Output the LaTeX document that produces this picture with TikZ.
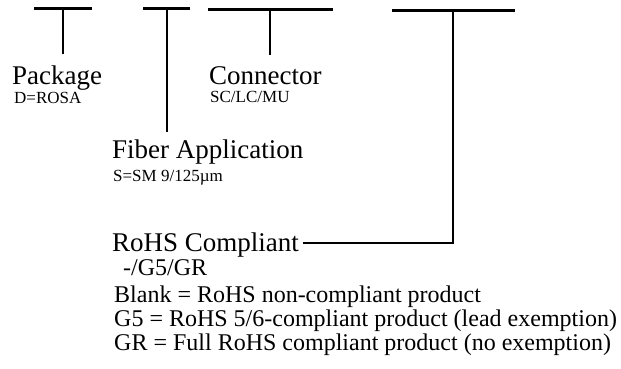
\documentclass[tikz,border=0pt]{standalone}
\usepackage{fontspec}
\setmainfont{Liberation Serif}
\usetikzlibrary{positioning}

\begin{document}
\begin{tikzpicture}[x=1pt,y=-1pt,
  bar/.style={line width=3pt},
  stem/.style={line width=2.8pt},
  head/.style={anchor=base west,inner sep=0pt,font=\fontsize{27}{27}\selectfont},
  sub/.style={anchor=base west,inner sep=0pt,font=\fontsize{17}{17}\selectfont},
  body/.style={anchor=base west,inner sep=0pt,font=\fontsize{24}{24}\selectfont}
]
\useasboundingbox (0,0) rectangle (621,368);
% field bars
\coordinate (pkgL) at (34,8);   \coordinate (pkgR) at (92,8);
\coordinate (fibL) at (143,8);  \coordinate (fibR) at (190,8);
\coordinate (conL) at (208,9);  \coordinate (conR) at (333,9);
\coordinate (rohL) at (392,10); \coordinate (rohR) at (515,10);
\draw[bar] (pkgL)--(pkgR); \draw[bar] (fibL)--(fibR);
\draw[bar] (conL)--(conR); \draw[bar] (rohL)--(rohR);
% labels
\node[head] (pkg) at (12,84) {Package};
\node[sub] (pkgv) at (14,103) {D=ROSA};
\node[head,text depth=0pt] (con) at (209,84) {Connector};
\node[sub] (conv) at (210,102) {SC/LC/MU};
\node[head] (fib) at (112,158) {Fiber Application};
\node[sub] (fibv) at (113,181) {S=SM 9/125µm};
\node[head] (roh) at (112,251) {RoHS Compliant};
\node[body] (rohv) at (123,275) {-/G5/GR};
\node[body] (opt1) at (114,302) {Blank = RoHS non-compliant product};
\node[body] (opt2) at (114,326) {G5 = RoHS 5/6-compliant product (lead exemption)};
\node[body] (opt3) at (114,350) {GR = Full RoHS compliant product (no exemption)};
% stems
\coordinate (pkgS) at (63,54);
\coordinate (fibS) at (167,132);
\coordinate (conS) at (270,55);
\coordinate (rohC) at (453,243);
\draw[stem] (63,8)--(pkgS);
\draw[stem] (167,8)--(fibS);
\draw[stem] (270,9)--(conS);
\draw[stem] (453,10)--(rohC)--([xshift=4pt]roh.east |- rohC);
\end{tikzpicture}
\end{document}
